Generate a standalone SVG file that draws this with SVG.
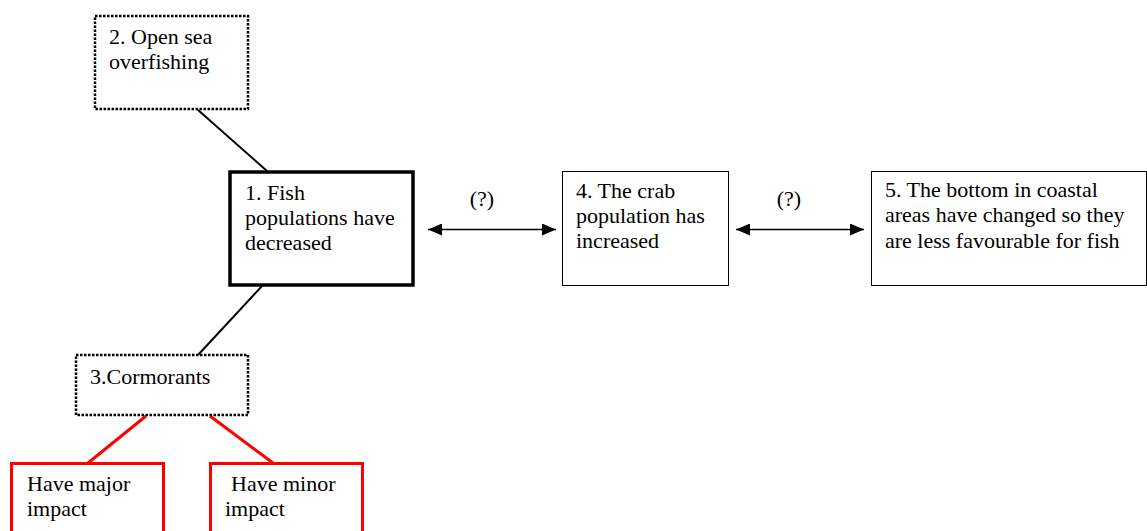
<svg xmlns="http://www.w3.org/2000/svg" width="1147" height="531" viewBox="0 0 1147 531">
<defs>
<style>
text{font-family:"Liberation Serif","Times New Roman",serif;font-size:22px;fill:#000}
.box{fill:#fff;stroke:#000;stroke-width:1}
.dot{fill:#fff;stroke:#000;stroke-width:2.5;stroke-dasharray:2.5 1.5}
.bold{fill:#fff;stroke:#000;stroke-width:3.5}
.red{fill:#fff;stroke:#f00;stroke-width:3}
.ln{stroke:#000;stroke-width:2;fill:none}
.rln{stroke:#f00;stroke-width:3;fill:none}
.arr{stroke:#000;stroke-width:1.5;fill:none;marker-start:url(#ah);marker-end:url(#ah)}
</style>
<marker id="ah" viewBox="0 0 14 12" refX="14" refY="6" markerWidth="14" markerHeight="12" markerUnits="userSpaceOnUse" orient="auto-start-reverse">
<path d="M0,0 L14,6 L0,12 Z" fill="#000"/>
</marker>
</defs>
<g id="connectors">
<line class="ln" x1="198" y1="110" x2="267" y2="171"/>
<line class="ln" x1="262" y1="286" x2="198" y2="355"/>
<line class="rln" x1="146" y1="416" x2="88" y2="463"/>
<line class="rln" x1="210" y1="416" x2="273" y2="463"/>
<line class="arr" x1="428" y1="229.5" x2="556" y2="229.5"/>
<line class="arr" x1="736" y1="229.5" x2="864" y2="229.5"/>
<text x="482" y="206" text-anchor="middle">(?)</text>
<text x="789" y="206" text-anchor="middle">(?)</text>
</g>
<g id="node2">
<rect class="dot" x="95" y="16" width="153" height="93"/>
<text x="109" y="44">2. Open sea</text>
<text x="109" y="69">overfishing</text>
</g>
<g id="node1">
<rect class="bold" x="230" y="172" width="183" height="113"/>
<text x="245" y="200">1. Fish</text>
<text x="245" y="225">populations have</text>
<text x="245" y="250">decreased</text>
</g>
<g id="node4">
<rect class="box" x="562.5" y="171.5" width="166" height="114"/>
<text x="576" y="198">4. The crab</text>
<text x="576" y="223">population has</text>
<text x="576" y="248">increased</text>
</g>
<g id="node5">
<rect class="box" x="871.5" y="171.5" width="275" height="114"/>
<text x="885" y="197">5. The bottom in coastal</text>
<text x="885" y="222">areas have changed so they</text>
<text x="885" y="248">are less favourable for fish</text>
</g>
<g id="node3">
<rect class="dot" x="76" y="355" width="172" height="60"/>
<text x="90" y="384">3.Cormorants</text>
</g>
<g id="nodeMajor">
<rect class="red" x="11.5" y="463.5" width="152" height="80"/>
<text x="27" y="491">Have major</text>
<text x="27" y="516">impact</text>
</g>
<g id="nodeMinor">
<rect class="red" x="210.5" y="463.5" width="152" height="80"/>
<text x="231" y="491">Have minor</text>
<text x="225" y="516">impact</text>
</g>
</svg>
